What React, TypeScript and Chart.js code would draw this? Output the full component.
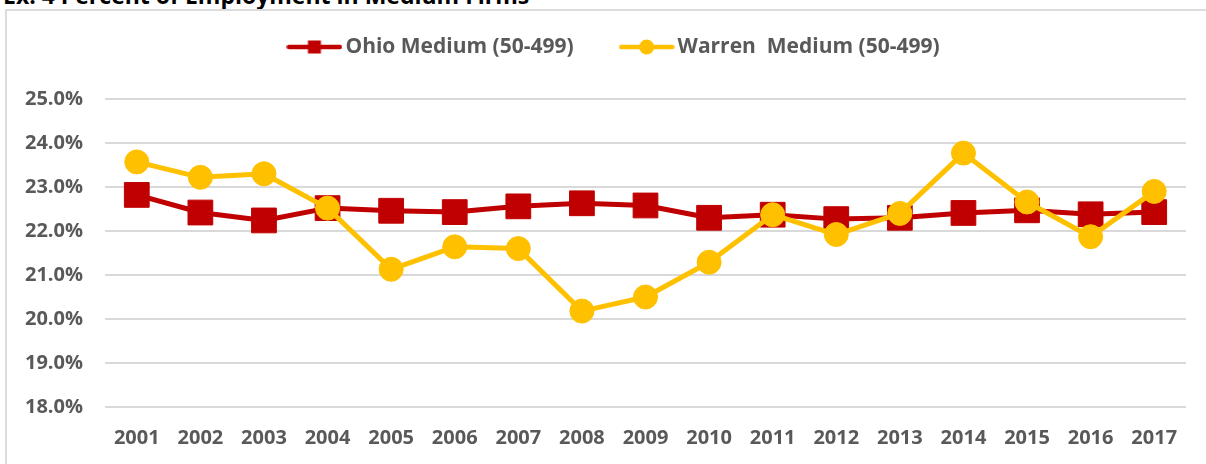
import React, { useEffect, useRef } from "react";
import { Chart, registerables } from "chart.js";

Chart.register(...registerables);

const titleText = "Ex. 4 Percent of Employment in Medium Firms";
const years = ["2001", "2002", "2003", "2004", "2005", "2006", "2007", "2008", "2009", "2010", "2011", "2012", "2013", "2014", "2015", "2016", "2017"];
const ohioMedium = [22.82, 22.42, 22.24, 22.52, 22.46, 22.43, 22.56, 22.63, 22.58, 22.30, 22.37, 22.27, 22.30, 22.41, 22.47, 22.38, 22.43];
const warrenMedium = [23.57, 23.22, 23.30, 22.52, 21.13, 21.64, 21.60, 20.18, 20.50, 21.29, 22.37, 21.92, 22.40, 23.77, 22.66, 21.87, 22.90];
const seriesLabels = ["Ohio Medium (50-499)", "Warren  Medium (50-499)"];
const yTicks = [18, 19, 20, 21, 22, 23, 24, 25];

const RED = "#C00000";
const GOLD = "#FFC000";
const TEXT = "#595959";
const GRID = "#D9D9D9";
const FONT = "'Open Sans', sans-serif";
const PAD_LEFT = 15;

function legendIcon(color: string, shape: "rect" | "circle"): HTMLCanvasElement {
  const c = document.createElement("canvas");
  c.width = 56;
  c.height = 18;
  const ctx = c.getContext("2d")!;
  ctx.strokeStyle = color;
  ctx.fillStyle = color;
  ctx.lineWidth = 4.5;
  ctx.lineCap = "round";
  ctx.beginPath();
  ctx.moveTo(2.5, 9);
  ctx.lineTo(53.5, 9);
  ctx.stroke();
  if (shape === "rect") {
    ctx.fillRect(28 - 6.5, 9 - 6.5, 13, 13);
  } else {
    ctx.beginPath();
    ctx.arc(28, 9, 7.5, 0, Math.PI * 2);
    ctx.fill();
  }
  return c;
}

export default function App() {
  const canvasRef = useRef<HTMLCanvasElement | null>(null);

  useEffect(() => {
    const canvas = canvasRef.current;
    if (!canvas) return;
    const icons = [legendIcon(RED, "rect"), legendIcon(GOLD, "circle")];
    const LEGEND_H = 115;
    const legendHeightPlugin = {
      id: "legendHeight",
      beforeInit(chart: any) {
        const orig = chart.legend.fit;
        chart.legend.fit = function () {
          orig.bind(chart.legend)();
          this.height = LEGEND_H;
          if (this.lineWidths && this.lineWidths.length) {
            this.lineWidths[0] -= 32.5;
          }
        };
      },
    };
    const chart = new Chart(canvas, {
      type: "line",
      data: {
        labels: years,
        datasets: [
          {
            label: seriesLabels[0],
            data: ohioMedium,
            borderColor: RED,
            backgroundColor: RED,
            borderWidth: 5,
            pointStyle: "rect",
            pointRadius: 17.5,
            pointBorderWidth: 1,
            pointBackgroundColor: RED,
            pointBorderColor: RED,
            borderJoinStyle: "round",
            borderCapStyle: "round",
            order: 1,
          },
          {
            label: seriesLabels[1],
            data: warrenMedium,
            borderColor: GOLD,
            backgroundColor: GOLD,
            borderWidth: 5,
            pointStyle: "circle",
            pointRadius: 12,
            pointBorderWidth: 1,
            pointBackgroundColor: GOLD,
            pointBorderColor: GOLD,
            borderJoinStyle: "round",
            borderCapStyle: "round",
            order: 0,
          },
        ],
      },
      options: {
        responsive: false,
        animation: false,
        events: [],
        layout: { padding: { top: 0, left: PAD_LEFT, right: 20, bottom: 0 } },
        plugins: {
          tooltip: { enabled: false },
          title: { display: false },
          legend: {
            display: true,
            position: "top",
            labels: {
              usePointStyle: true,
              pointStyleWidth: 41,
              padding: 52.5,
              color: TEXT,
              font: { family: FONT, size: 21, weight: "bold" },
              generateLabels: () =>
                seriesLabels.map((t, i) => ({
                  text: t,
                  pointStyle: icons[i] as any,
                  fillStyle: "transparent",
                  strokeStyle: "transparent",
                  lineWidth: 0,
                  hidden: false,
                  datasetIndex: i,
                  fontColor: TEXT,
                })),
            },
          },
        },
        scales: {
          x: {
            type: "category",
            offset: true,
            grid: { display: false, drawTicks: false },
            border: { display: false },
            ticks: {
              color: TEXT,
              padding: 19,
              maxRotation: 0,
              autoSkip: false,
              font: { family: FONT, size: 20, weight: "bold" },
            },
            afterFit: (s: any) => {
              s.height = 57;
            },
          },
          y: {
            min: yTicks[0],
            max: yTicks[yTicks.length - 1],
            afterBuildTicks: (s: any) => {
              s.ticks = yTicks.map((v) => ({ value: v }));
            },
            grid: { color: GRID, lineWidth: 2, drawTicks: false },
            border: { display: false },
            ticks: {
              color: TEXT,
              padding: 22,
              font: { family: FONT, size: 20, weight: "bold" },
              callback: (v: any) => Number(v).toFixed(1) + "%",
            },
            afterFit: (s: any) => {
              s.width = 105 - PAD_LEFT;
            },
          },
        },
      },
      plugins: [legendHeightPlugin],
    });
    return () => chart.destroy();
  }, []);

  return (
    <div
      style={{
        position: "fixed",
        left: 0,
        top: 0,
        width: 1206,
        height: 464,
        overflow: "hidden",
        background: "#ffffff",
      }}
    >
      <div
        style={{
          position: "absolute",
          left: 3,
          top: -16.5,
          fontFamily: FONT,
          fontWeight: "bold",
          fontSize: 23,
          lineHeight: "23px",
          color: "#000000",
          whiteSpace: "nowrap",
        }}
      >
        {titleText}
      </div>
      <div
        style={{
          position: "absolute",
          left: 5,
          top: 9,
          width: 1400,
          height: 700,
          borderTop: "2px solid #DCDCDC",
          borderLeft: "2px solid #DCDCDC",
        }}
      />
      <canvas
        ref={canvasRef}
        width={1206}
        height={480}
        style={{ position: "absolute", left: 0, top: -16, width: 1206, height: 480 }}
      />
    </div>
  );
}
